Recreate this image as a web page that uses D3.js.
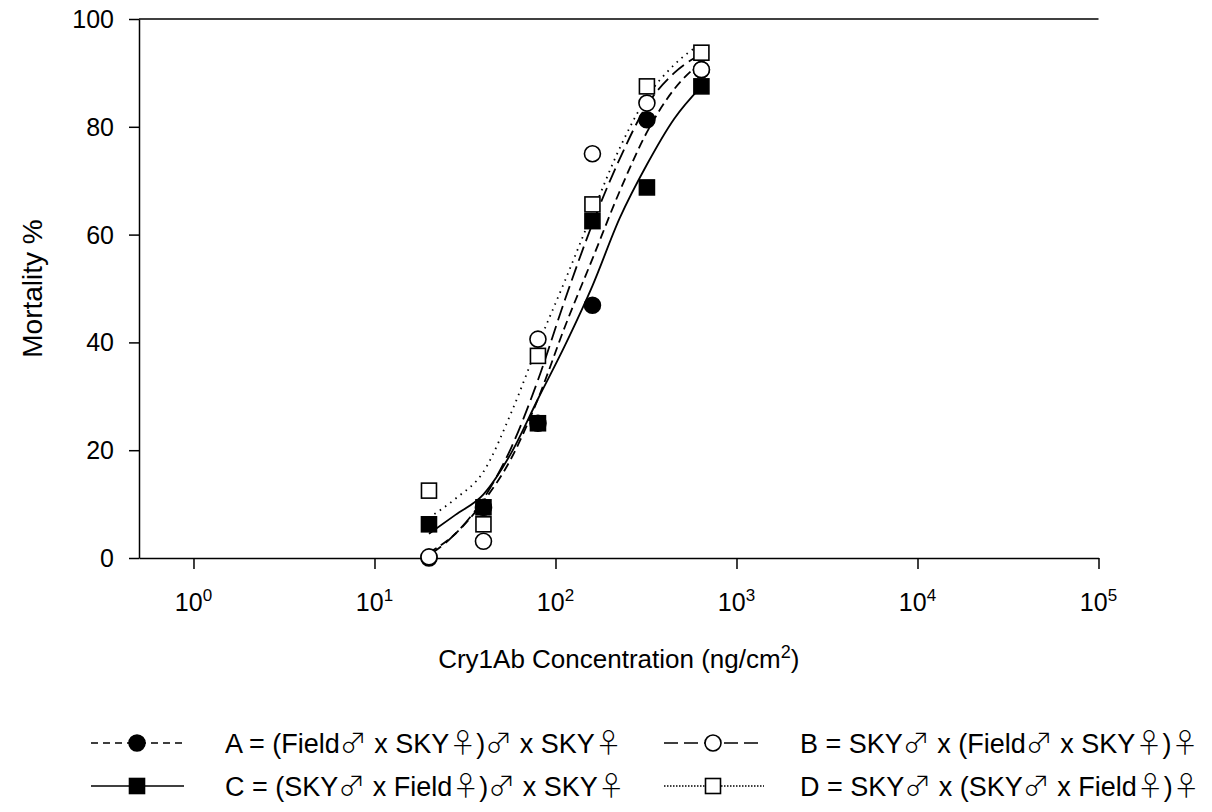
<!DOCTYPE html>
<html>
<head>
<meta charset="utf-8">
<script src="https://cdn.jsdelivr.net/npm/d3@7"></script>
<style>
  html, body { margin: 0; padding: 0; background: #fff; }
  svg { display: block; font-family: "Liberation Sans", Arial, sans-serif; }
</style>
</head>
<body>
<svg id="chart" width="1212" height="812"></svg>
<script>
// ---- data ----
const concentrations = [20, 40, 80, 160, 320, 640];
const seriesA = [0, 9.4, 25, 46.9, 81.3, 90.6];   // (Field♂ x SKY♀)♂ x SKY♀  filled circle
const seriesB = [0.2, 3.1, 40.6, 75.0, 84.4, 90.6]; // SKY♂ x (Field♂ x SKY♀)♀ open circle
const seriesC = [6.25, 9.4, 25, 62.5, 68.75, 87.5]; // (SKY♂ x Field♀)♂ x SKY♀ filled square
const seriesD = [12.5, 6.25, 37.5, 65.6, 87.5, 93.75]; // SKY♂ x (SKY♂ x Field♀)♀ open square

// fitted curves
const curveConc = [20, 28, 40, 57, 80, 113, 160, 226, 320, 453, 640];
const curveA = [1, 4.5, 10.5, 18.5, 29.5, 43, 55.5, 68, 79, 87, 92];
const curveB = [0.5, 4.5, 11, 20.5, 33, 48, 62, 74, 84, 90, 93.5];
const curveC = [4.5, 8, 11.8, 19.5, 29.5, 39.5, 50.5, 63, 73, 81.5, 87.5];
const curveD = [7.5, 11, 16, 27, 39.5, 51.5, 64, 76, 85.5, 91.5, 95.5];

const xTickValues = [1, 10, 100, 1000, 10000, 100000];
const yTickValues = [0, 20, 40, 60, 80, 100];
const legendLabels = [
  "A = (Field\u2642 x SKY\u2640)\u2642 x SKY\u2640",
  "B = SKY\u2642 x (Field\u2642 x SKY\u2640)\u2640",
  "C = (SKY\u2642 x Field\u2640)\u2642 x SKY\u2640",
  "D = SKY\u2642 x (SKY\u2642 x Field\u2640)\u2640"
];

// ---- layout ----
const svg = d3.select("#chart");
const pL = 139, pR = 1098.5, pT = 19, pB = 558;
const x = d3.scaleLog().domain([0.5, 100000]).range([pL, pR]);
const y = d3.scaleLinear().domain([0, 100]).range([pB, pT]);
const FS = 25, FT = 28, FX = 26, FL = 27;

// axes
const gx = svg.append("g").attr("transform", `translate(0,${pB})`)
  .call(d3.axisBottom(x).tickValues(xTickValues).tickSize(11).tickSizeOuter(0).tickFormat(""));
const gy = svg.append("g").attr("transform", `translate(${pL},0)`)
  .call(d3.axisLeft(y).tickValues(yTickValues).tickSize(10).tickSizeOuter(0).tickFormat(""));
[gx, gy].forEach(g => {
  g.select(".domain").attr("stroke", "#000").attr("stroke-width", 1.5);
  g.selectAll(".tick line").attr("stroke", "#000").attr("stroke-width", 1.5);
});
// top border line
svg.append("line").attr("x1", pL).attr("x2", pR).attr("y1", pT).attr("y2", pT)
  .attr("stroke", "#000").attr("stroke-width", 1.5);

// x tick labels with superscripts
xTickValues.forEach(v => {
  const t = svg.append("text").attr("x", x(v)).attr("y", 611)
    .attr("text-anchor", "middle").attr("font-size", FS);
  t.append("tspan").text("10");
  t.append("tspan").attr("dy", -10).attr("font-size", 17).text(Math.round(Math.log10(v)));
});
// y tick labels
yTickValues.forEach(v => {
  svg.append("text").attr("x", 114).attr("y", y(v) + 9)
    .attr("text-anchor", "end").attr("font-size", FS).text(v);
});

// axis titles
svg.append("text").attr("transform", `translate(42,${(pT + pB) / 2}) rotate(-90)`)
  .attr("text-anchor", "middle").attr("font-size", FT).text("Mortality %");
const xt = svg.append("text").attr("x", (pL + pR) / 2).attr("y", 668)
  .attr("text-anchor", "middle").attr("font-size", FX);
xt.append("tspan").text("Cry1Ab Concentration (ng/cm");
xt.append("tspan").attr("dy", -10).attr("font-size", 18).text("2");
xt.append("tspan").attr("dy", 10).text(")");

// curves
const line = d3.line().x(d => x(d[0])).y(d => y(d[1])).curve(d3.curveMonotoneX);
const styles = {
  A: { dash: "9,5", w: 1.8 },
  B: { dash: "15,6", w: 1.8 },
  C: { dash: null, w: 1.8 },
  D: { dash: "1.5,5", w: 1.8 }
};
const curves = [["D", curveD], ["C", curveC], ["B", curveB], ["A", curveA]];
curves.forEach(([k, vals]) => {
  svg.append("path").datum(curveConc.map((c, i) => [c, vals[i]]))
    .attr("d", line).attr("fill", "none").attr("stroke", "#000")
    .attr("stroke-width", styles[k].w)
    .attr("stroke-dasharray", styles[k].dash);
});

// markers
const R = 8, S = 15;
function circle(g, cx, cy, filled) {
  g.append("circle").attr("cx", cx).attr("cy", cy).attr("r", R)
    .attr("fill", filled ? "#000" : "#fff").attr("stroke", "#000").attr("stroke-width", 1.6);
}
function square(g, cx, cy, filled) {
  g.append("rect").attr("x", cx - S / 2).attr("y", cy - S / 2).attr("width", S).attr("height", S)
    .attr("fill", filled ? "#000" : "#fff").attr("stroke", "#000").attr("stroke-width", 1.6);
}
const mg = svg.append("g");
concentrations.forEach((c, i) => circle(mg, x(c), y(seriesA[i]), true));
concentrations.forEach((c, i) => circle(mg, x(c), y(seriesB[i]), false));
concentrations.forEach((c, i) => square(mg, x(c), y(seriesC[i]), true));
concentrations.forEach((c, i) => square(mg, x(c), y(seriesD[i]), false));

// legend
const legendItems = [
  { label: legendLabels[0], x0: 91, x1: 184, mx: 137, tx: 225, ty: 743, dash: "7,5", shape: "circle", filled: true },
  { label: legendLabels[1], x0: 664, x1: 764, mx: 713, tx: 800, ty: 743, dash: "14,6", shape: "circle", filled: false },
  { label: legendLabels[2], x0: 91, x1: 184, mx: 137, tx: 225, ty: 786, dash: null, shape: "square", filled: true },
  { label: legendLabels[3], x0: 664, x1: 764, mx: 713, tx: 800, ty: 786, dash: "1.5,1.5", shape: "square", filled: false }
];
legendItems.forEach(d => {
  svg.append("line").attr("x1", d.x0).attr("x2", d.x1).attr("y1", d.ty).attr("y2", d.ty)
    .attr("stroke", "#000").attr("stroke-width", 1.6).attr("stroke-dasharray", d.dash);
  if (d.shape === "circle") circle(svg, d.mx, d.ty, d.filled);
  else square(svg, d.mx, d.ty, d.filled);
  const t = svg.append("text").attr("x", d.tx).attr("y", d.ty + 9.5).attr("font-size", FL);
  // split so the sex symbols use a full-width thin glyph
  d.label.split(/([\u2640\u2642])/).filter(s => s.length).forEach(part => {
    const sp = t.append("tspan").text(part);
    if (/[\u2640\u2642]/.test(part)) sp.attr("font-family", "'Noto Sans CJK JP', 'DejaVu Sans', sans-serif").attr("font-weight", 300);
  });
});
</script>
</body>
</html>
